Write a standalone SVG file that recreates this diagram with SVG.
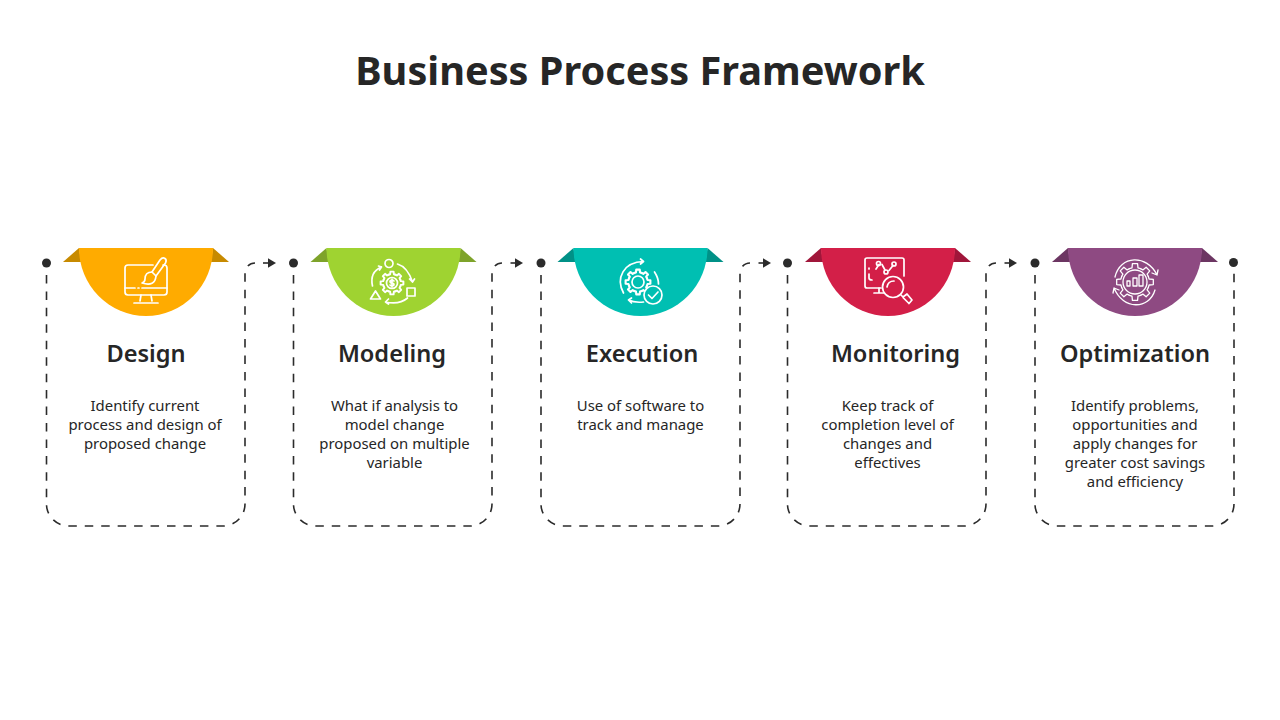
<svg xmlns="http://www.w3.org/2000/svg" xmlns:xlink="http://www.w3.org/1999/xlink" width="1280" height="720" viewBox="0 0 1280 720">
<style>
text{font-family:"Noto Sans","Open Sans","Liberation Sans",sans-serif;fill:#262626;text-anchor:middle}
.title{font-size:39.7px;font-weight:700}
.head{font-size:23.6px;font-weight:600}
.body{font-size:14.9px}
.dash{fill:none;stroke:#2b2b2b;stroke-width:1.6;stroke-dasharray:8.5 7.95;stroke-dashoffset:4.5}
.shaft{fill:none;stroke:#2b2b2b;stroke-width:1.6;marker-end:url(#arrow)}
.dot{fill:#2b2b2b}
.ic{fill:none;stroke:#fff;stroke-width:1.7;stroke-linecap:round;stroke-linejoin:round}
</style>
<defs>
<marker id="arrow" markerUnits="userSpaceOnUse" markerWidth="9" markerHeight="11" refX="1" refY="5.5" orient="auto"><path d="M0 .5L8.5 5.5L0 10.5Z" fill="#2b2b2b"/></marker>
<path id="tooth" d="M7.2-3L7.63-1.62L9.9-1.39L9.9 1.39L7.63 1.62L7.2 3"/>
<g id="gear"><use xlink:href="#tooth"/><use xlink:href="#tooth" transform="rotate(45)"/><use xlink:href="#tooth" transform="rotate(90)"/><use xlink:href="#tooth" transform="rotate(135)"/><use xlink:href="#tooth" transform="rotate(180)"/><use xlink:href="#tooth" transform="rotate(225)"/><use xlink:href="#tooth" transform="rotate(270)"/><use xlink:href="#tooth" transform="rotate(315)"/></g>
<g id="ribbonL"><path d="M-83 262L-67 248L-65 262Z"/><path d="M83 262L67 248L65 262Z"/></g>
</defs>
<rect width="1280" height="720" fill="#fff"/>
<text class="title" x="640" y="84.500">Business Process Framework</text>
<g id="connectors">
<path class="dash" d="M46.5 263V504A22 22 0 0 0 68.5 526H223A22 22 0 0 0 245 504V273A10 10 0 0 1 255 263"/><path class="shaft" d="M263 263H268.500"/>
<path class="dash" d="M293.5 263V504A22 22 0 0 0 315.5 526H470A22 22 0 0 0 492 504V273A10 10 0 0 1 502 263"/><path class="shaft" d="M510.500 263H515.500"/>
<path class="dash" d="M541 263V504A22 22 0 0 0 563 526H718A22 22 0 0 0 740 504V273A10 10 0 0 1 750 263"/><path class="shaft" d="M758.500 263H763.500"/>
<path class="dash" d="M787.5 263V504A22 22 0 0 0 809.5 526H964A22 22 0 0 0 986 504V273A10 10 0 0 1 996 263"/><path class="shaft" d="M1004.500 263H1009.500"/>
<path class="dash" d="M1035 263V504A22 22 0 0 0 1057 526H1212A22 22 0 0 0 1234 504V263"/>
<circle class="dot" cx="46.500" cy="263" r="4.500"/><circle class="dot" cx="293.500" cy="263" r="4.500"/><circle class="dot" cx="541" cy="263" r="4.500"/><circle class="dot" cx="787.500" cy="263" r="4.500"/><circle class="dot" cx="1035" cy="263" r="4.500"/><circle class="dot" cx="1233.500" cy="262.500" r="4.500"/>
</g>
<g id="node-design" transform="translate(146 0)">
<use xlink:href="#ribbonL" fill="#C78A00"/>
<path d="M-67 248A67 68 0 0 0 67 248Z" fill="#FFAB00"/>
<g class="ic" stroke-width="1.900"><path d="M7 265H-18Q-21 265-21 268V292Q-21 295-18 295H18Q21 295 21 292V268Q21 265 18 265H17"/><path d="M-21 288H-11M-8 288H-7M-4 288H21"/><path d="M-5 295L-6 301M5 295L6 301M-12 303H12"/><path d="M6 272L14 260Q16.500 257 19 258.500Q21 260 19.500 263L10 276Z"/><path d="M6 272Q-1 272-1 279Q-1 282-4 283Q9 287 10 276"/></g>
<text class="head" x="0" y="362">Design</text>
<text class="body" x="-1" y="411">Identify current</text><text class="body" x="-1" y="430">process and design of</text><text class="body" x="-1" y="449">proposed change</text>
</g>
<g id="node-modeling" transform="translate(393.5 0)">
<use xlink:href="#ribbonL" fill="#7EA32A"/>
<path d="M-67 248A67 68 0 0 0 67 248Z" fill="#9FD331"/>
<g class="ic"><circle cx="-4.500" cy="263.500" r="4"/><use xlink:href="#gear" transform="translate(-1.500 283) scale(1.150)"/><circle cx="-1.500" cy="283" r="5.500"/><path d="M.5 281Q-1.500 279-3.500 281Q-3.500 283-1.500 283Q.5 283 .5 285Q-1.500 287-3.500 285M-1.500 279V287"/><rect x="13.500" y="288" width="8" height="8"/><path d="M-18 291L-13 299H-23Z"/><path d="M-21 286Q-24 272-12 267M-12 267L-15 266M-12 267L-14 270"/><path d="M4 264Q14 267 19 282M19 282L16 279M19 282L21 279"/><path d="M14 298Q6 305-8 302M-8 302L-5 299M-8 302L-5 304"/></g>
<text class="head" x="-1.500" y="362">Modeling</text>
<text class="body" x="1" y="411">What if analysis to</text><text class="body" x="1" y="430">model change</text><text class="body" x="1" y="449">proposed on multiple</text><text class="body" x="1" y="468">variable</text>
</g>
<g id="node-execution" transform="translate(640.5 0)">
<use xlink:href="#ribbonL" fill="#009187"/>
<path d="M-67 248A67 68 0 0 0 67 248Z" fill="#00BFB2"/>
<g class="ic"><use xlink:href="#gear" transform="translate(-2.500 282) scale(1.250)"/><circle cx="-2.500" cy="282" r="6"/><path d="M-17 293C-25 278-17 262 3 261.500M3 261.500L0 259M3 261.500L0 264"/><path d="M14 272Q18 278 18 284"/><path d="M3 302Q-6 303-12 300M-12 300L-9 298M-12 300L-9 303"/><circle cx="12.500" cy="295" r="9" fill="#00BFB2"/><path d="M8 295L11.500 298.500L17.500 292"/></g>
<text class="head" x="1.500" y="362">Execution</text>
<text class="body" x="0" y="411">Use of software to</text><text class="body" x="0" y="430">track and manage</text>
</g>
<g id="node-monitoring" transform="translate(888 0)">
<use xlink:href="#ribbonL" fill="#A0163A"/>
<path d="M-67 248A67 68 0 0 0 67 248Z" fill="#D31F48"/>
<g class="ic"><path d="M-7 288H-21Q-23 288-23 286V260Q-23 258-21 258H14Q16 258 16 260V276"/><path d="M-9 288V293M-14 293H-4"/><path d="M-19 274V278Q-19 280-16 280M-19 268V269"/><path d="M-12 269L-9 264.500M-6 264.500L-3 270M1 270.500L5 265.500"/><circle cx="-9.500" cy="263.500" r="2"/><circle cx="-2" cy="272" r="2"/><circle cx="6" cy="264" r="2"/><circle cx="5" cy="287" r="10.500"/><path d="M-1 287Q0 281 6 281"/><path d="M13 295L15 297M15 297L19 294L24 300L21 303.500L15.500 298Z"/></g>
<text class="head" x="7.500" y="362">Monitoring</text>
<text class="body" x="-0.500" y="411">Keep track of</text><text class="body" x="-0.500" y="430">completion level of</text><text class="body" x="-0.500" y="449">changes and</text><text class="body" x="-0.500" y="468">effectives</text>
</g>
<g id="node-optimization" transform="translate(1135 0)">
<use xlink:href="#ribbonL" fill="#6C3662"/>
<path d="M-67 248A67 68 0 0 0 67 248Z" fill="#8E4A82"/>
<g class="ic" style="stroke-width:1.300"><use xlink:href="#gear" transform="translate(0 282) scale(1.850)" style="stroke-width:.7"/><circle cx="0" cy="282" r="12"/><path d="M-8 281H-5V286H-8ZM-2 278H2V286H-2ZM4 275H8V286H4Z"/><path d="M-20 277C-15 255 12 254 22 275M22 275L23 270M22 275L17 273"/><path d="M20 290C14 310-12 310-21 288M-21 288L-22 293M-21 288L-16 290"/></g>
<text class="head" x="0" y="362">Optimization</text>
<text class="body" x="0" y="411">Identify problems,</text><text class="body" x="0" y="430">opportunities and</text><text class="body" x="0" y="449">apply changes for</text><text class="body" x="0" y="468">greater cost savings</text><text class="body" x="0" y="487">and efficiency</text>
</g>
</svg>
